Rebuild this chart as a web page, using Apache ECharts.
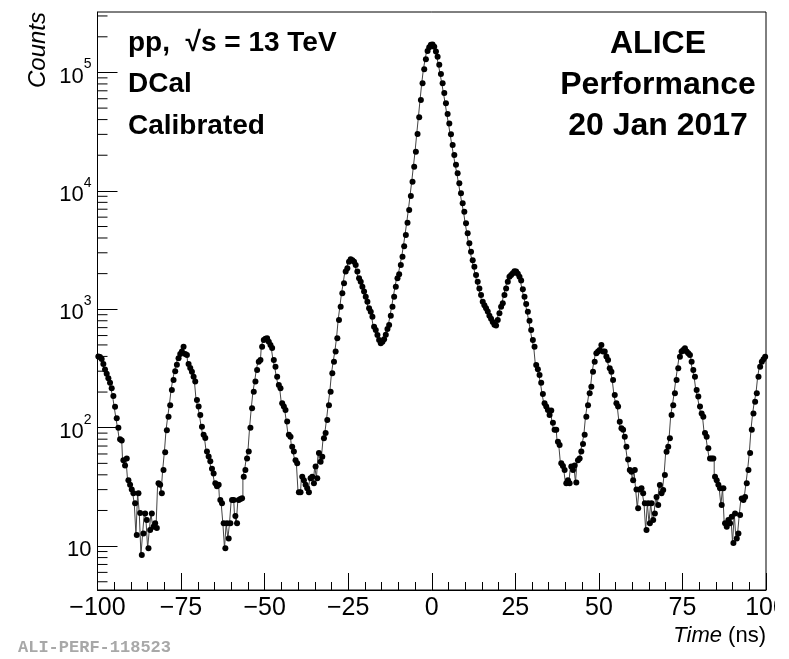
<!DOCTYPE html>
<html>
<head>
<meta charset="utf-8">
<title>DCal cell time, pp 13 TeV</title>
<script src="https://cdn.jsdelivr.net/npm/echarts@6/dist/echarts.min.js"></script>
<style>
  html, body { margin: 0; padding: 0; background: #fff; }
  #chart { width: 775px; height: 659px; }
</style>
</head>
<body>
<div id="chart"></div>
<script>
// Histogram range and binning (ns)
const timeRange = [-100, 100];
const binWidth = 0.5;

// Counts per 0.5 ns bin, from -100 ns to +100 ns (10 bins per row = 5 ns)
const counts = [
  400, 395, 380, 345, 310, 285, 262, 240, 215, 185,
  150, 120, 100, 80, 78, 53, 48, 55, 36, 33,
  30, 28, 23, 12.4, 28, 19, 8.4, 12.8, 18.9, 16.6,
  9.6, 13.7, 18.9, 14.6, 15.6, 14.2, 34, 33, 28, 44,
  62, 95, 124, 155, 208, 253, 300, 340, 385, 420,
  440, 483, 420, 411, 345, 320, 297, 269, 245, 171,
  151, 128, 102, 87, 82, 63, 57, 52, 45, 41,
  34, 32, 33, 24.5, 23, 15.6, 9.6, 15.6, 11.6, 15.6,
  24.5, 24.5, 18, 15.6, 24.5, 25, 25.4, 38.5, 44, 55,
  63, 100, 146, 201, 245, 307, 361, 373, 483, 550,
  565, 569, 532, 499, 470, 373, 327, 269, 229, 215,
  161, 151, 141, 113, 87, 84, 69, 63, 53, 50,
  28.5, 28.5, 38.5, 36, 33, 30.8, 28.5, 37.4, 38.5, 33.9,
  47, 37.4, 61, 51.6, 56.9, 81.6, 90, 116, 155, 201,
  288, 361, 439, 569, 813, 1052, 1365, 1660, 2080, 2220,
  2520, 2640, 2600, 2520, 2366, 2080, 1828, 1710, 1553, 1410,
  1276, 1158, 1019, 955, 866, 713, 668, 607, 550, 516,
  532, 558, 610, 680, 736, 880, 1050, 1276, 1553, 1828,
  1980, 2366, 2780, 3400, 4240, 5380, 6900, 9060, 11960, 16000,
  21400, 30200, 41900, 58600, 81100, 106400, 129000, 152000, 163000, 171000,
  172000, 165000, 150000, 136000, 116000, 97000, 81000, 67000, 55000, 44500,
  37000, 30000, 24400, 20100, 16600, 14100, 11600, 9550, 7860, 6670,
  5320, 4390, 3610, 3060, 2600, 2290, 1950, 1710, 1500, 1320,
  1160, 1080, 1020, 960, 880, 830, 780, 740, 730, 811,
  925, 1050, 1122, 1320, 1500, 1710, 1883, 1950, 2014, 2100,
  2080, 2000, 1883, 1746, 1476, 1279, 1109, 955, 802, 668,
  550, 483, 339, 311, 279, 240, 193, 161, 151, 141,
  128, 140, 110, 96, 96, 76, 71.5, 50, 47.4, 44,
  34, 36, 34, 47, 44, 48, 34.5, 53, 55, 63,
  73, 87, 124, 155, 195, 222, 297, 361, 425, 440,
  453, 499, 439, 439, 400, 373, 318, 297, 253, 189,
  161, 151, 112, 99, 96, 84, 69, 54, 44, 42.5,
  36, 44, 30, 20.9, 30, 30.8, 27.9, 23, 13.7, 23,
  15.6, 23, 16.6, 18.9, 26, 22.2, 32.8, 27.9, 29.8, 39.8,
  62.7, 69, 81.6, 128, 155, 195, 253, 318, 398, 439,
  453, 468, 440, 425, 411, 361, 307, 269, 208, 183,
  151, 132, 124, 90, 84, 67, 55, 55, 55, 38.5,
  36, 32.9, 30.8, 22.2, 30.8, 15.6, 14.6, 16.6, 15.6, 17.7,
  10.6, 18.9, 11.6, 12.8, 18.3, 25.3, 24.5, 26, 33.9, 44,
  61, 96, 132, 166, 195, 269, 327, 361, 378, 398
];

// Vertical axis range (log scale)
const countRange = [4.26, 324000];
// Decades that get minor ticks at 2..9 x 10^n
const minorDecades = [1, 10, 100, 1000, 10000, 100000];

// Text drawn on the pad
const leftLabels = ['pp,  \u221As = 13 TeV', 'DCal', 'Calibrated'];
const rightLabels = ['ALICE', 'Performance', '20 Jan 2017'];
const figureId = 'ALI-PERF-118523';

const FONT = '"Liberation Sans", Arial, Helvetica, sans-serif';

const histData = counts.map((c, i) => [timeRange[0] + binWidth * (i + 0.5), c]);

const minorTicks = [];
minorDecades.forEach(d => {
  for (let k = 2; k <= 9; k++) {
    const v = k * d;
    if (v > countRange[0] && v < countRange[1]) minorTicks.push([timeRange[0], v]);
  }
});

const chart = echarts.init(document.getElementById('chart'), null, { renderer: 'canvas' });

const rich = {
  b: { fontSize: 22, fontFamily: FONT, color: '#000', lineHeight: 30, verticalAlign: 'bottom' },
  sup: { fontSize: 14, fontFamily: FONT, color: '#000', lineHeight: 14, verticalAlign: 'top' }
};

chart.setOption({
  animation: false,
  backgroundColor: '#fff',
  grid: {
    left: 97.5, right: 9, top: 12, bottom: 69,
    containLabel: false, outerBoundsMode: 'none',
    show: true, borderColor: '#000', borderWidth: 1, backgroundColor: 'transparent'
  },
  xAxis: {
    type: 'value',
    min: timeRange[0], max: timeRange[1], interval: 25,
    axisLine: { show: true, onZero: false, lineStyle: { color: '#000', width: 1 } },
    axisTick: { show: true, inside: true, length: 17, lineStyle: { color: '#000', width: 1 } },
    minorTick: { show: true, splitNumber: 5, length: 8, lineStyle: { color: '#000', width: 1 } },
    splitLine: { show: false },
    axisLabel: {
      color: '#000', fontFamily: FONT, fontSize: 25, margin: 6,
      formatter: v => (v < 0 ? '\u2212' + (-v) : String(v))
    }
  },
  yAxis: {
    type: 'log', logBase: 10,
    min: countRange[0], max: countRange[1],
    axisLine: { show: true, onZero: false, lineStyle: { color: '#000', width: 1 } },
    axisTick: { show: true, inside: true, length: 20, lineStyle: { color: '#000', width: 1 } },
    splitLine: { show: false },
    axisLabel: {
      showMinLabel: false, showMaxLabel: false, margin: 6,
      formatter: v => {
        const e = Math.round(Math.log10(v));
        return e === 1 ? '{b|10}' : '{b|10}{sup|' + e + '}';
      },
      rich: rich
    }
  },
  series: [
    {
      type: 'line',
      data: histData,
      step: 'middle',
      showAllSymbol: true,
      symbol: 'circle',
      symbolSize: 6,
      itemStyle: { color: '#000' },
      lineStyle: { color: '#444', width: 1 },
      clip: true,
      z: 3
    },
    {
      type: 'custom',
      data: minorTicks,
      silent: true,
      clip: false,
      renderItem: (params, api) => {
        const p = api.coord([api.value(0), api.value(1)]);
        return {
          type: 'line',
          shape: { x1: p[0], y1: p[1], x2: p[0] + 10, y2: p[1] },
          style: { stroke: '#000', lineWidth: 1 }
        };
      },
      z: 2
    }
  ],
  graphic: [
    // left annotation block
    ...leftLabels.map((t, i) => ({
      type: 'text', left: 128, top: 29 + i * 41.5,
      style: { text: t, font: 'bold 28px ' + FONT, fill: '#000' }
    })),
    // right annotation block
    ...rightLabels.map((t, i) => ({
      type: 'text', x: 658, y: 44 + i * 41,
      style: { text: t, font: 'bold 32px ' + FONT, fill: '#000', textAlign: 'center', textVerticalAlign: 'middle' }
    })),
    {
      type: 'text', x: 38, y: 12, rotation: Math.PI / 2,
      style: { text: 'Counts', font: 'italic 24px ' + FONT, fill: '#000', textAlign: 'right', textVerticalAlign: 'middle' }
    },
    {
      type: 'text', x: 766, y: 636,
      style: {
        text: '{i|Time} (ns)',
        font: '22px ' + FONT, fill: '#000', textAlign: 'right', textVerticalAlign: 'middle',
        rich: { i: { font: 'italic 22px ' + FONT, fill: '#000' } }
      }
    },
    {
      type: 'text', x: 18, y: 648,
      style: { text: figureId, font: 'bold 17px "Liberation Mono", "DejaVu Sans Mono", monospace', fill: '#a8a8a8', textVerticalAlign: 'middle' }
    }
  ]
});
</script>
</body>
</html>
